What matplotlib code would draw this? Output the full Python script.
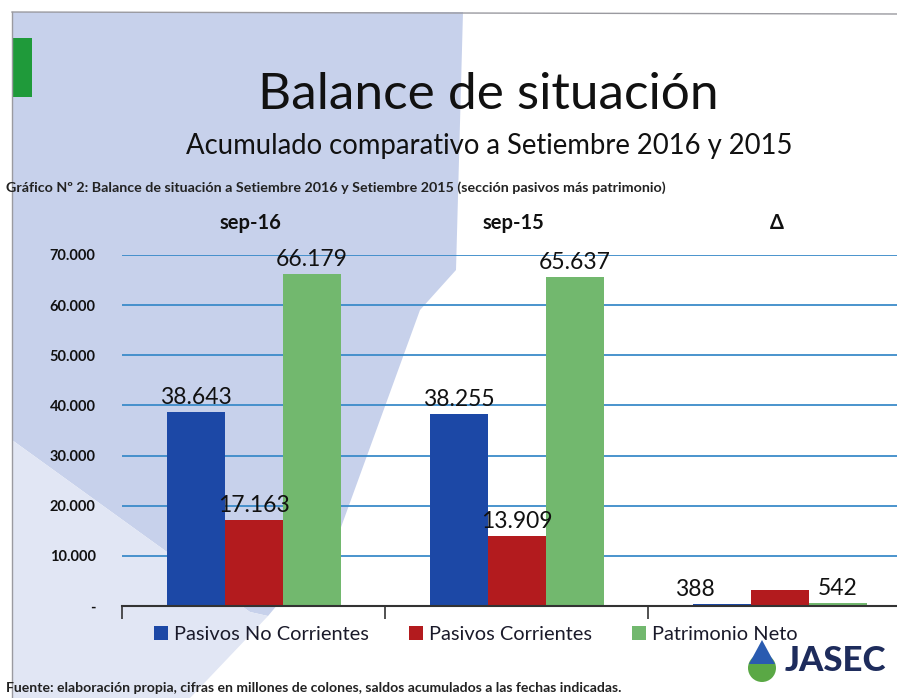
import matplotlib
matplotlib.use("Agg")
import matplotlib.pyplot as plt
from matplotlib.patches import Polygon, Rectangle, Ellipse
import numpy as np

plt.rcParams['font.family'] = ['Lato', 'DejaVu Sans']

# ---- data ----
groups = ["sep-16", "sep-15", "\u0394"]
series = ["Pasivos No Corrientes", "Pasivos Corrientes", "Patrimonio Neto"]
pasivos_no_corrientes = [38643, 38255, 388]
pasivos_corrientes = [17163, 13909, 3254]
patrimonio_neto = [66179, 65637, 542]
labels_no_corrientes = ["38.643", "38.255", "388"]
labels_corrientes = ["17.163", "13.909", ""]
labels_patrimonio = ["66.179", "65.637", "542"]
yticks = [0, 10000, 20000, 30000, 40000, 50000, 60000, 70000]
ytick_labels = ["-", "10.000", "20.000", "30.000", "40.000", "50.000", "60.000", "70.000"]

colors = ["#1c48a6", "#b31b1e", "#72b86e"]

W, H = 897, 698
fig = plt.figure(figsize=(W / 100, H / 100), dpi=100)
fig.patch.set_facecolor("white")

# ---- background (pixel coordinates) ----
bg = fig.add_axes([0, 0, 1, 1], zorder=-5)
bg.set_xlim(0, W)
bg.set_ylim(H, 0)
bg.axis("off")
bg.add_patch(Polygon([(12, 12), (463, 12), (456, 270), (420, 310), (340, 530),
                      (268, 616), (250, 612), (12, 440)],
                     closed=True, facecolor="#c7d1eb", edgecolor="none"))
bg.add_patch(Polygon([(12, 440), (250, 612), (268, 616), (190, 698), (12, 698)],
                     closed=True, facecolor="#e1e6f4", edgecolor="none"))
bg.plot([12, 897], [12, 14], color="#9a9aa0", lw=1)
bg.plot([12, 12], [12, 698], color="#9a9aa0", lw=1)
bg.add_patch(Rectangle((12, 38), 20, 59, facecolor="#1f9a3a", edgecolor="none"))

# logo
bg.add_patch(Ellipse((762, 668), 28, 28, facecolor="#5aa845", edgecolor="none"))
bg.add_patch(Polygon([(762, 640), (749, 664), (775, 664)], closed=True,
                     facecolor="#2a5bb0", edgecolor="none"))
bg.text(785, 661, "JASEC", fontsize=25, fontweight="black", color="#1e2c5c",
        ha="left", va="center")

# titles
fig.text(488 / W, 1 - 95 / H, "Balance de situación", fontsize=37, color="#111111",
         ha="center", va="center")
fig.text(489 / W, 1 - 146 / H, "Acumulado comparativo a Setiembre 2016 y 2015",
         fontsize=19.8, color="#111111", ha="center", va="center")
fig.text(6 / W, 1 - 188 / H,
         "Gráfico Nº 2: Balance de situación a Setiembre 2016 y Setiembre 2015 (sección pasivos más patrimonio)",
         fontsize=10.3, fontweight="bold", color="#222222", ha="left", va="center")
fig.text(6 / W, 1 - 688 / H,
         "Fuente: elaboración propia, cifras en millones de colones, saldos acumulados a las fechas indicadas.",
         fontsize=10.1, fontweight="bold", color="#222222", ha="left", va="center")

# ---- chart ----
left = 122 / W
bottom = 1 - 606 / H
top = 1 - 255 / H
ax = fig.add_axes([left, bottom, 1 - left, top - bottom])
ax.patch.set_alpha(0)
group_px = 263.0
x0 = -0.5
xmax = x0 + (W - 122) / group_px
ax.set_xlim(x0, xmax)
ax.set_ylim(0, 70000)

x = np.arange(len(groups))
bw = 58 / group_px
data = [pasivos_no_corrientes, pasivos_corrientes, patrimonio_neto]
lbls = [labels_no_corrientes, labels_corrientes, labels_patrimonio]

for yv in yticks[1:]:
    ax.axhline(yv, color="#3b8bc9", lw=1.3, zorder=1)

for i, (vals, lab) in enumerate(zip(data, lbls)):
    xs = x + (i - 1) * bw
    bars = ax.bar(xs, vals, width=bw, color=colors[i], zorder=2, label=series[i])
    for j, (b, t) in enumerate(zip(bars, lab)):
        if not t:
            continue
        dx = -0.1 if (j == 2 and i == 0) else 0
        ax.annotate(t, (b.get_x() + b.get_width() / 2 + dx, b.get_height()),
                    xytext=(0, 3), textcoords="offset points", ha="center",
                    va="bottom", fontsize=16.5, color="#111111",
                    annotation_clip=False, zorder=4)

# group labels on top
for xi, g in zip(x, groups):
    ax.text(xi - 0.01, 70000 + 4300, g, transform=ax.transData, ha="center",
            va="bottom", fontsize=14.5, fontweight="bold", color="#111111")

ax.set_yticks(yticks)
ax.set_yticklabels(ytick_labels, fontsize=10.5, fontweight="bold", color="#111111")
ax.tick_params(axis="y", length=0, pad=19)
ax.set_xticks([-0.5, 0.5, 1.5])
ax.set_xticklabels([])
ax.tick_params(axis="x", length=9, width=1.2, color="#333333", direction="out")
for s in ["left", "right", "top"]:
    ax.spines[s].set_visible(False)
ax.spines["bottom"].set_color("#333333")
ax.spines["bottom"].set_linewidth(1.5)
ax.spines["bottom"].set_zorder(3)

leg = fig.legend(handles=[c.patches[0] for c in ax.containers],
                 labels=series, loc="center left", bbox_to_anchor=(146 / W, 1 - 634 / H),
                 ncol=3, frameon=False, fontsize=14.4, handlelength=0.7, handleheight=0.7,
                 handletextpad=0.3, columnspacing=2.0, borderaxespad=0)
for t in leg.get_texts():
    t.set_color("#1a1a2a")

fig.savefig("out.png", dpi=100, facecolor=fig.get_facecolor())
